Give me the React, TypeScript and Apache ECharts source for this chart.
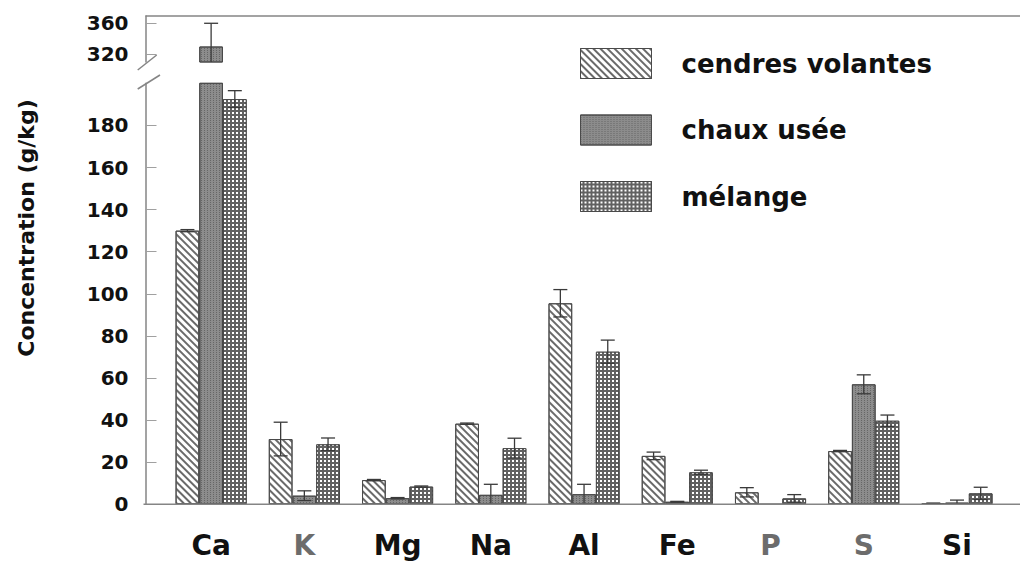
import React, { useEffect, useRef } from "react";
import * as echarts from "echarts";

// Elements measured and the three materials compared
const ELEMENTS = ["Ca", "K", "Mg", "Na", "Al", "Fe", "P", "S", "Si"];
const GREY_ELEMENTS = ["K", "P", "S"];
const SERIES_NAMES = ["cendres volantes", "chaux usée", "mélange"];

// Mean concentrations (g/kg) and their error half-widths
const CENDRES = [130, 31, 11.5, 38.3, 95.5, 23, 5.7, 25.3, 0.4];
const CENDRES_ERR = [0.5, 8, 0.3, 0.3, 6.5, 1.8, 2.2, 0.3, 0.2];
const CHAUX = [330, 4.1, 2.9, 4.5, 4.8, 1.2, 0, 57, 0.8];
const CHAUX_ERR = [30, 2.3, 0.3, 5, 4.7, 0.2, 0, 4.5, 1.2];
const MELANGE = [192.5, 28.5, 8.4, 26.7, 72.5, 15.2, 2.8, 39.7, 5.2];
const MELANGE_ERR = [4, 3, 0.3, 4.7, 5.5, 1, 1.8, 2.7, 2.9];

// Tick labels of the broken value axis
const LOWER_TICKS = [0, 20, 40, 60, 80, 100, 120, 140, 160, 180];
const UPPER_TICKS = [320, 360];

// Ranges of the two axis segments
const LOWER_MIN = 0;
const LOWER_MAX = 200;
const UPPER_MIN = 310;
const UPPER_MAX = 369.4;

// Layout (px)
const W = 1020;
const H = 563;
const AXIS_X = 145.5;
const PLOT_LEFT = 164.5;
const PLOT_RIGHT = 1003.6;
const ZERO_Y = 504.3;
const LOWER_TOP = 83.3;
const UPPER_TOP = 16;
const UPPER_BOTTOM = 62;
const BAR_W = 23.7;
const CAP_HALF = 7;

const FONT = "DejaVu Sans";
const AXIS_GREY = "#858585";

const VALUES = [CENDRES, CHAUX, MELANGE];
const ERRORS = [CENDRES_ERR, CHAUX_ERR, MELANGE_ERR];

const STYLES: any[] = [
  {
    color: "#ffffff",
    borderColor: "#4a4a4a",
    borderWidth: 1,
    decal: {
      symbol: "rect",
      color: "#6a6a6a",
      dashArrayX: [1, 0],
      dashArrayY: [1.1, 2.1],
      rotation: Math.PI / 4,
    },
  },
  {
    color: "#8c8c8c",
    borderColor: "#4a4a4a",
    borderWidth: 1,
    decal: {
      symbol: "rect",
      color: "rgba(55,55,55,0.45)",
      dashArrayX: [1, 2],
      dashArrayY: [1, 1],
    },
  },
  {
    color: "#616161",
    borderColor: "#4a4a4a",
    borderWidth: 1,
    decal: {
      symbol: "rect",
      color: "#ffffff",
      dashArrayX: [1.5, 1.3],
      dashArrayY: [1.5, 1.3],
    },
  },
];

function errorRenderer(slot: number) {
  return (params: any, api: any) => {
    const cat = api.value(0);
    const v = api.value(1);
    const e = api.value(2);
    if (!e) return null;
    const cs = params.coordSys;
    const dx = (slot - 1) * BAR_W;
    const top = api.coord([cat, v + e]);
    const bot = api.coord([cat, v - e]);
    const x = top[0] + dx;
    const minY = cs.y;
    const maxY = cs.y + cs.height;
    const y1 = Math.max(top[1], minY);
    const lowerInside = bot[1] <= maxY;
    const y2 = Math.min(bot[1], maxY);
    const style = { stroke: "#3a3a3a", lineWidth: 1.3 };
    const children: any[] = [
      { type: "line", shape: { x1: x, y1, x2: x, y2 }, style },
    ];
    if (top[1] >= minY) {
      children.push({
        type: "line",
        shape: { x1: x - CAP_HALF, y1, x2: x + CAP_HALF, y2: y1 },
        style,
      });
    }
    if (lowerInside) {
      children.push({
        type: "line",
        shape: { x1: x - CAP_HALF, y1: y2, x2: x + CAP_HALF, y2 },
        style,
      });
    }
    return { type: "group", children };
  };
}

function buildOption(): any {
  const series: any[] = [];

  // Lower segment (0–200)
  SERIES_NAMES.forEach((name, s) => {
    series.push({
      name,
      type: "bar",
      xAxisIndex: 0,
      yAxisIndex: 0,
      barWidth: BAR_W,
      barGap: "0%",
      clip: true,
      itemStyle: STYLES[s],
      data: VALUES[s],
    });
  });
  // Upper segment (above the break)
  SERIES_NAMES.forEach((name, s) => {
    series.push({
      name,
      type: "bar",
      xAxisIndex: 1,
      yAxisIndex: 1,
      barWidth: BAR_W,
      barGap: "0%",
      clip: true,
      itemStyle: STYLES[s],
      data: VALUES[s].map((v) => (v > LOWER_MAX ? v : "-")),
    });
  });
  // Error bars on each segment
  SERIES_NAMES.forEach((name, s) => {
    const items = VALUES[s].map((v, i) => [i, v, ERRORS[s][i]]);
    series.push({
      name: name + " (erreur)",
      type: "custom",
      xAxisIndex: 0,
      yAxisIndex: 0,
      z: 5,
      renderItem: errorRenderer(s),
      encode: { x: 0, y: 1 },
      data: items.filter((d) => d[1] <= LOWER_MAX),
    });
    series.push({
      name: name + " (erreur)",
      type: "custom",
      xAxisIndex: 1,
      yAxisIndex: 1,
      z: 5,
      renderItem: errorRenderer(s),
      encode: { x: 0, y: 1 },
      data: items.filter((d) => d[1] > LOWER_MAX),
    });
  });

  const yLabel = {
    fontFamily: FONT,
    fontWeight: "bold",
    fontSize: 20,
    color: "#111",
    margin: 17,
  };

  return {
    animation: false,
    backgroundColor: "#ffffff",
    textStyle: { fontFamily: FONT },
    grid: [
      {
        left: PLOT_LEFT,
        right: W - PLOT_RIGHT,
        top: LOWER_TOP,
        bottom: H - ZERO_Y,
        containLabel: false,
      },
      {
        left: PLOT_LEFT,
        right: W - PLOT_RIGHT,
        top: UPPER_TOP,
        bottom: H - UPPER_BOTTOM,
        containLabel: false,
      },
    ],
    xAxis: [
      {
        type: "category",
        gridIndex: 0,
        data: ELEMENTS,
        axisLine: { show: false },
        axisTick: { show: false },
        splitLine: { show: false },
        axisLabel: {
          margin: 27,
          fontFamily: FONT,
          fontWeight: "bold",
          fontSize: 28,
          color: (v: string) => (GREY_ELEMENTS.includes(v) ? "#6c6c6c" : "#111"),
        },
      },
      {
        type: "category",
        gridIndex: 1,
        data: ELEMENTS,
        axisLine: { show: false },
        axisTick: { show: false },
        axisLabel: { show: false },
        splitLine: { show: false },
      },
    ],
    yAxis: [
      {
        type: "value",
        gridIndex: 0,
        min: LOWER_MIN,
        max: LOWER_MAX,
        interval: 20,
        offset: PLOT_LEFT - AXIS_X,
        axisLine: { show: true, lineStyle: { color: AXIS_GREY, width: 1.5 } },
        axisTick: {
          show: true,
          inside: true,
          length: 11,
          customValues: LOWER_TICKS,
          lineStyle: { color: "#a0a0a0", width: 1 },
        },
        axisLabel: { ...yLabel, customValues: LOWER_TICKS },
        splitLine: { show: false },
      },
      {
        type: "value",
        gridIndex: 1,
        min: UPPER_MIN,
        max: UPPER_MAX,
        offset: PLOT_LEFT - AXIS_X,
        axisLine: { show: true, lineStyle: { color: AXIS_GREY, width: 1.5 } },
        axisTick: {
          show: true,
          inside: true,
          length: 11,
          customValues: UPPER_TICKS,
          lineStyle: { color: "#a0a0a0", width: 1 },
        },
        axisLabel: { ...yLabel, customValues: UPPER_TICKS },
        splitLine: { show: false },
      },
    ],
    legend: {
      data: SERIES_NAMES,
      orient: "vertical",
      left: 575,
      top: 43,
      itemWidth: 71,
      itemHeight: 30,
      itemGap: 35.5,
      icon: "rect",
      selectedMode: false,
      itemStyle: { borderColor: "#4a4a4a", borderWidth: 1 },
      textStyle: {
        fontFamily: FONT,
        fontWeight: "bold",
        fontSize: 26,
        color: "#111",
        padding: [4, 0, 0, 25],
      },
    },
    graphic: [
      {
        type: "line",
        shape: { x1: AXIS_X, y1: UPPER_TOP, x2: W, y2: UPPER_TOP },
        style: { stroke: AXIS_GREY, lineWidth: 1.5 },
        z: 10,
      },
      {
        type: "line",
        shape: { x1: AXIS_X - 2, y1: ZERO_Y, x2: W, y2: ZERO_Y },
        style: { stroke: AXIS_GREY, lineWidth: 1.5 },
        z: 10,
      },
      {
        type: "line",
        shape: { x1: 137.7, y1: 70, x2: 156.7, y2: 55 },
        style: { stroke: AXIS_GREY, lineWidth: 1.5 },
        z: 10,
      },
      {
        type: "line",
        shape: { x1: 137.7, y1: 89, x2: 160, y2: 75 },
        style: { stroke: AXIS_GREY, lineWidth: 1.5 },
        z: 10,
      },
      {
        type: "text",
        x: 26,
        y: 228,
        rotation: Math.PI / 2,
        style: {
          text: "Concentration (g/kg)",
          fontFamily: FONT,
          fontWeight: "bold",
          fontSize: 22,
          fill: "#111",
          align: "center",
          verticalAlign: "middle",
        },
      },
    ],
    series,
  };
}

export default function App() {
  const ref = useRef<HTMLDivElement>(null);
  useEffect(() => {
    if (!ref.current) return;
    const chart = echarts.init(ref.current, undefined, { renderer: "svg" });
    chart.setOption(buildOption());
    return () => chart.dispose();
  }, []);
  return (
    <div
      ref={ref}
      style={{ position: "fixed", left: 0, top: 0, width: W, height: H, background: "#fff" }}
    />
  );
}
